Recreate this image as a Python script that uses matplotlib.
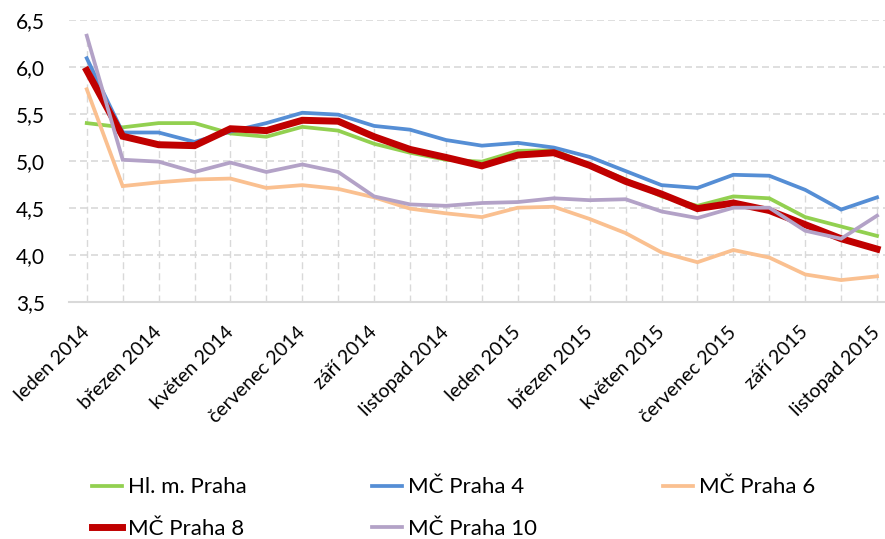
import numpy as np
import matplotlib
matplotlib.use('Agg')
import matplotlib.pyplot as plt
from matplotlib.ticker import FuncFormatter

plt.rcParams['font.family'] = ['Lato', 'DejaVu Sans']

# months leden 2014 .. listopad 2015
months = ['leden 2014', 'únor 2014', 'březen 2014', 'duben 2014', 'květen 2014',
          'červen 2014', 'červenec 2014', 'srpen 2014', 'září 2014', 'říjen 2014',
          'listopad 2014', 'prosinec 2014', 'leden 2015', 'únor 2015', 'březen 2015',
          'duben 2015', 'květen 2015', 'červen 2015', 'červenec 2015', 'srpen 2015',
          'září 2015', 'říjen 2015', 'listopad 2015']

praha = [5.40, 5.355, 5.40, 5.40, 5.29, 5.255, 5.36, 5.32, 5.18, 5.085, 5.01, 4.99,
         5.105, 5.11, 4.96, 4.80, 4.62, 4.52, 4.62, 4.60, 4.40, 4.30, 4.20]
praha4 = [6.09, 5.30, 5.30, 5.20, 5.31, 5.40, 5.51, 5.49, 5.37, 5.33, 5.22, 5.16,
          5.19, 5.14, 5.04, 4.89, 4.74, 4.71, 4.85, 4.84, 4.69, 4.48, 4.61]
praha6 = [5.76, 4.73, 4.77, 4.80, 4.81, 4.71, 4.74, 4.70, 4.61, 4.49, 4.44, 4.40,
          4.50, 4.51, 4.38, 4.23, 4.025, 3.92, 4.05, 3.97, 3.79, 3.73, 3.77]
praha8 = [5.96, 5.26, 5.17, 5.16, 5.34, 5.32, 5.43, 5.42, 5.255, 5.12, 5.035, 4.945,
          5.06, 5.085, 4.95, 4.78, 4.645, 4.49, 4.55, 4.47, 4.32, 4.17, 4.06]
praha10 = [6.33, 5.01, 4.99, 4.88, 4.98, 4.88, 4.96, 4.88, 4.62, 4.535, 4.52, 4.55,
           4.56, 4.60, 4.58, 4.59, 4.46, 4.39, 4.50, 4.50, 4.255, 4.17, 4.415]

series = [('Hl. m. Praha', praha, '#92D050', 2.7),
          ('MČ Praha 4', praha4, '#558ED5', 2.7),
          ('MČ Praha 6', praha6, '#FAC090', 2.7),
          ('MČ Praha 8', praha8, '#C00000', 5.0),
          ('MČ Praha 10', praha10, '#B3A2C7', 2.7)]

fig = plt.figure(figsize=(8.85, 5.39), dpi=100)
# plot area runs past the right edge like in the original
ax = fig.add_axes([68.8 / 885, 1 - 301.7 / 539, 826.2 / 885, 282 / 539])

x = np.arange(len(months))
grid_col = '#D9D9D9'

# drop lines from the highest series to the axis
top = np.max(np.array([s[1] for s in series]), axis=0)
ax.vlines(x, 3.5, top, colors=grid_col, linewidth=1.0, linestyles=(0, (5, 3)), zorder=1)

lines = {}
for name, vals, col, lw in series:
    lines[name], = ax.plot(x, vals, color=col, linewidth=lw, label=name,
                           solid_joinstyle='miter', zorder=3)

ax.set_xlim(-0.5, len(months) - 0.5)
ax.set_ylim(3.5, 6.5)
ax.set_yticks(np.arange(3.5, 6.51, 0.5))
ax.yaxis.set_major_formatter(FuncFormatter(lambda v, p: ('%.1f' % v).replace('.', ',')))
ax.grid(axis='y', color=grid_col, linewidth=1.2, linestyle=(0, (4.2, 2.4)), zorder=0)
ax.set_axisbelow(True)

for s in ['top', 'right', 'left']:
    ax.spines[s].set_visible(False)
ax.spines['bottom'].set_color(grid_col)
ax.spines['bottom'].set_linewidth(1.5)

ax.set_xticks(x[::2])
ax.set_xticklabels(months[::2], rotation=45, ha='right', va='center',
                   rotation_mode='anchor', fontsize=14)
ax.tick_params(axis='x', length=0, pad=20)
ax.tick_params(axis='y', length=0, pad=17, labelsize=15)

order = ['Hl. m. Praha', 'MČ Praha 8', 'MČ Praha 4', 'MČ Praha 10', 'MČ Praha 6']
fig.legend([lines[n] for n in order], order, ncol=3, loc='center left',
           bbox_to_anchor=(92 / 885, 1 - 508 / 539), frameon=False, fontsize=16,
           handlelength=1.35, handletextpad=0.27, columnspacing=5.65, labelspacing=0.95,
           borderpad=0, borderaxespad=0)

plt.savefig('out.png', dpi=100)
